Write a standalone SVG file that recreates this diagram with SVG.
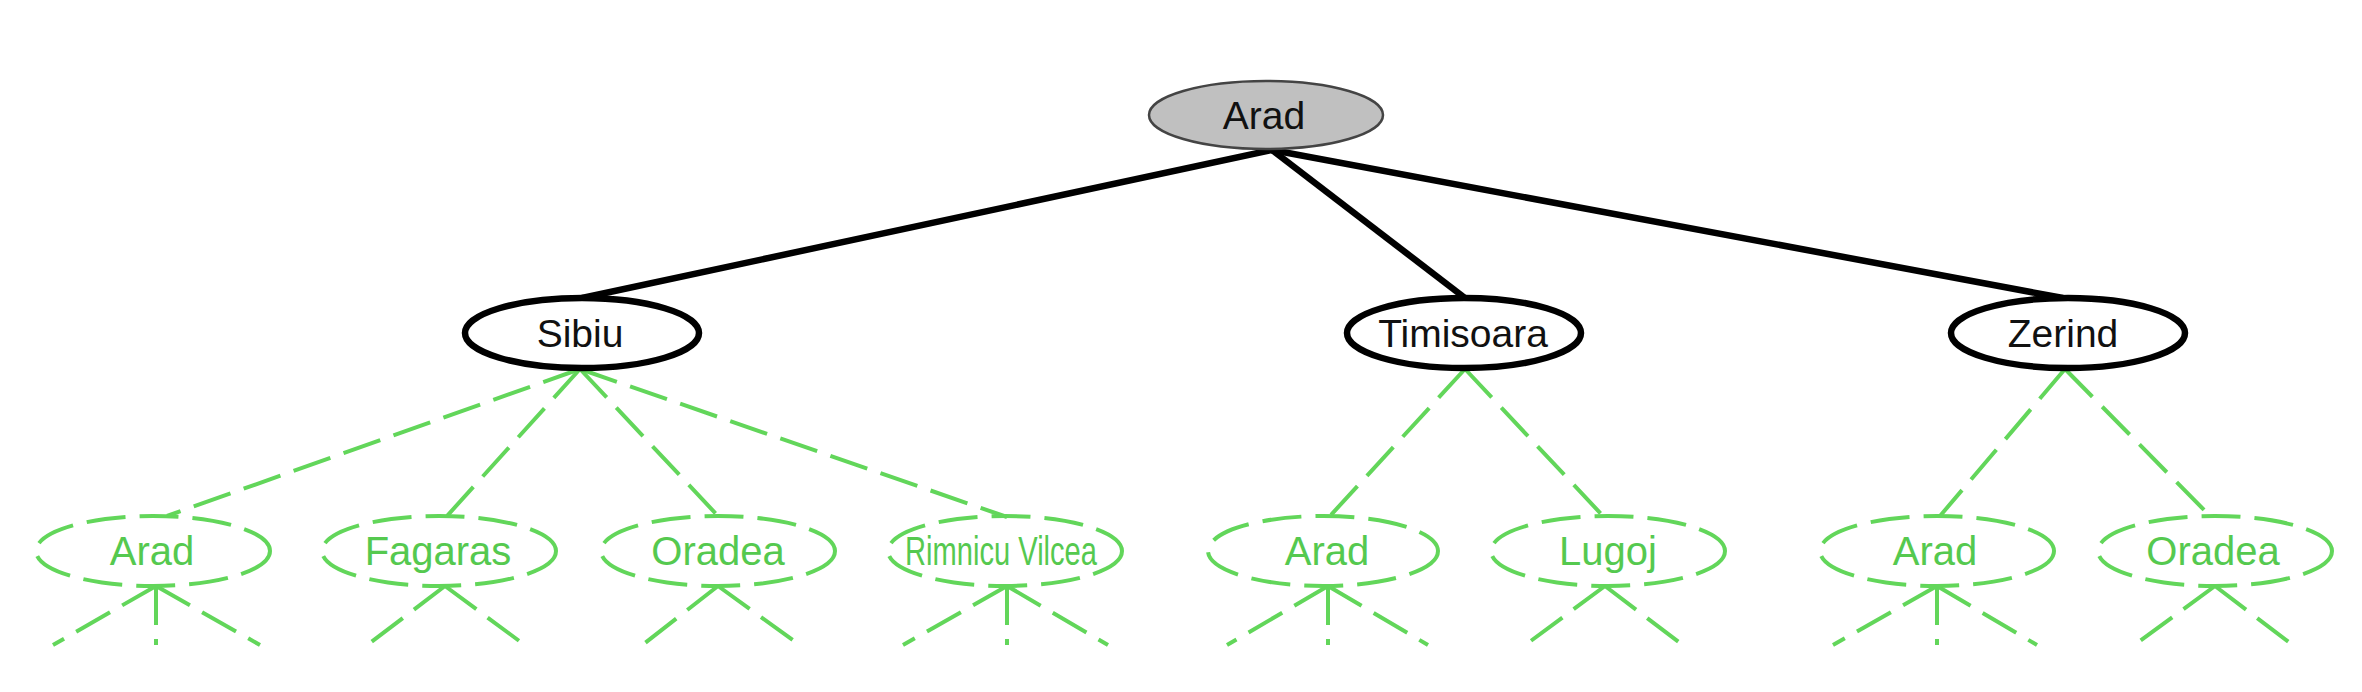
<svg xmlns="http://www.w3.org/2000/svg" width="2362" height="692" viewBox="0 0 2362 692">
<style>
text{font-family:"Liberation Sans",Arial,sans-serif;text-anchor:middle}
.t1{font-size:39px;fill:#111}
.t3{font-size:40px;fill:#55c94f}
.root{fill:#c0c0c0;stroke:#444;stroke-width:2.5}
.n2{fill:#fff;stroke:#000;stroke-width:6.5}
.n3{fill:none;stroke:#62d65a;stroke-width:4;stroke-dasharray:39 14}
.e1{stroke:#000;stroke-width:6.5;fill:none}
.e2{stroke:#62d65a;stroke-width:4;stroke-dasharray:39 14;fill:none}
</style>
<rect width="2362" height="692" fill="#fff"/>
<g id="connectors">
<line class="e1" x1="1272" y1="150" x2="582" y2="298"/>
<line class="e1" x1="1272" y1="150" x2="1465" y2="298"/>
<line class="e1" x1="1272" y1="150" x2="2063" y2="298"/>
<line class="e2" x1="580" y1="369" x2="167" y2="516"/>
<line class="e2" x1="580" y1="369" x2="447" y2="516"/>
<line class="e2" x1="580" y1="369" x2="718" y2="516"/>
<line class="e2" x1="580" y1="369" x2="1007" y2="517"/>
<line class="e2" x1="1465" y1="369" x2="1330" y2="516"/>
<line class="e2" x1="1465" y1="369" x2="1603" y2="516"/>
<line class="e2" x1="2065" y1="369" x2="1940" y2="516"/>
<line class="e2" x1="2065" y1="369" x2="2210" y2="516"/>
<line class="e2" x1="156" y1="586" x2="53" y2="645"/>
<line class="e2" x1="156" y1="586" x2="156" y2="645"/>
<line class="e2" x1="156" y1="586" x2="260" y2="645"/>
<line class="e2" x1="445" y1="586" x2="370" y2="643"/>
<line class="e2" x1="445" y1="586" x2="522" y2="643"/>
<line class="e2" x1="718" y1="586" x2="645" y2="643"/>
<line class="e2" x1="718" y1="586" x2="797" y2="643"/>
<line class="e2" x1="1007" y1="586" x2="903" y2="645"/>
<line class="e2" x1="1007" y1="586" x2="1007" y2="645"/>
<line class="e2" x1="1007" y1="586" x2="1108" y2="645"/>
<line class="e2" x1="1328" y1="586" x2="1227" y2="645"/>
<line class="e2" x1="1328" y1="586" x2="1328" y2="645"/>
<line class="e2" x1="1328" y1="586" x2="1428" y2="645"/>
<line class="e2" x1="1605" y1="586" x2="1528" y2="643"/>
<line class="e2" x1="1605" y1="586" x2="1680" y2="643"/>
<line class="e2" x1="1937" y1="586" x2="1833" y2="645"/>
<line class="e2" x1="1937" y1="586" x2="1937" y2="645"/>
<line class="e2" x1="1937" y1="586" x2="2037" y2="645"/>
<line class="e2" x1="2215" y1="586" x2="2137" y2="643"/>
<line class="e2" x1="2215" y1="586" x2="2290" y2="643"/>
</g>
<g id="n-arad-root"><ellipse class="root" cx="1266" cy="115" rx="117" ry="34"/><text class="t1" x="1264" y="129">Arad</text></g>
<g id="n-sibiu"><ellipse class="n2" cx="582" cy="333" rx="117" ry="35"/><text class="t1" x="580" y="347">Sibiu</text></g>
<g id="n-timisoara"><ellipse class="n2" cx="1464" cy="333" rx="117" ry="35"/><text class="t1" x="1463" y="347">Timisoara</text></g>
<g id="n-zerind"><ellipse class="n2" cx="2068" cy="333" rx="117" ry="35"/><text class="t1" x="2063" y="347">Zerind</text></g>
<g id="n-s-arad"><ellipse class="n3" cx="153" cy="551" rx="117" ry="35"/><text class="t3" x="152" y="565">Arad</text></g>
<g id="n-s-fagaras"><ellipse class="n3" cx="439" cy="551" rx="117" ry="35"/><text class="t3" x="438" y="565">Fagaras</text></g>
<g id="n-s-oradea"><ellipse class="n3" cx="718" cy="551" rx="117" ry="35"/><text class="t3" x="718" y="565">Oradea</text></g>
<g id="n-s-rimnicu"><ellipse class="n3" cx="1005" cy="551" rx="117" ry="35"/><text class="t3" x="1001" y="565" textLength="192" lengthAdjust="spacingAndGlyphs">Rimnicu Vilcea</text></g>
<g id="n-t-arad"><ellipse class="n3" cx="1323" cy="551" rx="115" ry="35"/><text class="t3" x="1327" y="565">Arad</text></g>
<g id="n-t-lugoj"><ellipse class="n3" cx="1608" cy="551" rx="117" ry="35"/><text class="t3" x="1608" y="565">Lugoj</text></g>
<g id="n-z-arad"><ellipse class="n3" cx="1937" cy="551" rx="117" ry="35"/><text class="t3" x="1935" y="565">Arad</text></g>
<g id="n-z-oradea"><ellipse class="n3" cx="2215" cy="551" rx="117" ry="35"/><text class="t3" x="2213" y="565">Oradea</text></g>
</svg>
